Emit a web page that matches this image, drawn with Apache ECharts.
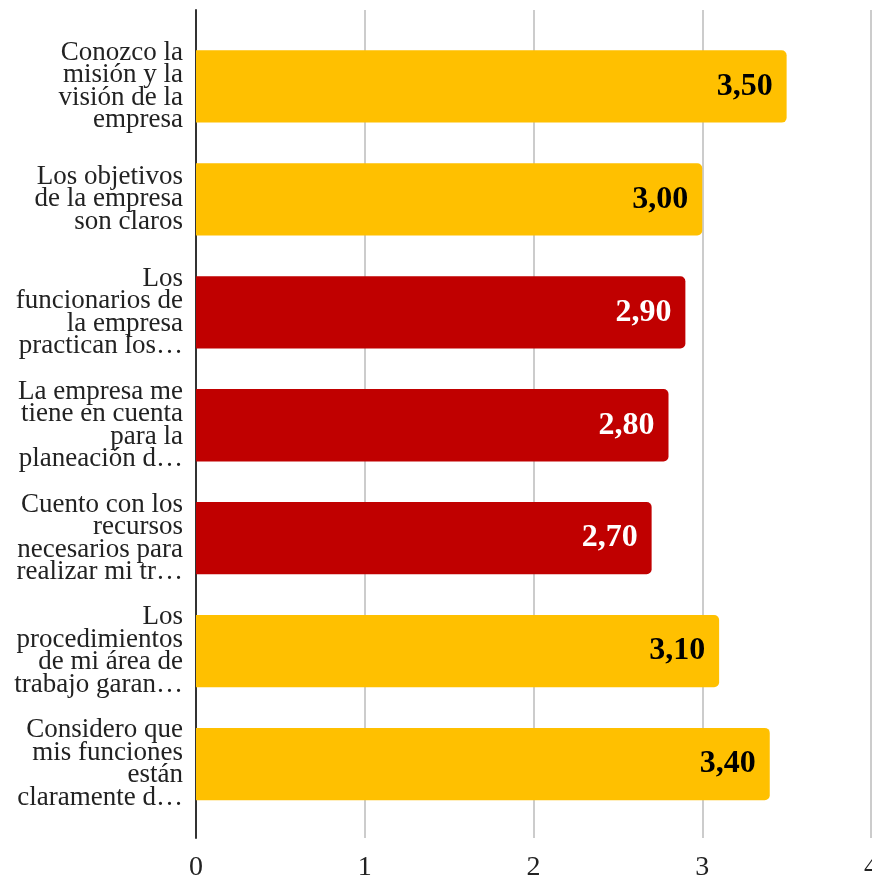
<!DOCTYPE html>
<html>
<head>
<meta charset="utf-8">
<script src="https://cdn.jsdelivr.net/npm/echarts@6/dist/echarts.min.js"></script>
<style>
html,body{margin:0;padding:0;background:#fff;}
#chart{width:872px;height:881px;}
</style>
</head>
<body>
<div id="chart"></div>
<script>
const categories = [
  "Conozco la\nmisión y la\nvisión de la\nempresa",
  "Los objetivos\nde la empresa\nson claros",
  "Los\nfuncionarios de\nla empresa\npractican los…",
  "La empresa me\ntiene en cuenta\npara la\nplaneación d…",
  "Cuento con los\nrecursos\nnecesarios para\nrealizar mi tr…",
  "Los\nprocedimientos\nde mi área de\ntrabajo garan…",
  "Considero que\nmis funciones\nestán\nclaramente d…"
];
const values = [3.50, 3.00, 2.90, 2.80, 2.70, 3.10, 3.40];
const xTicks = [0, 1, 2, 3, 4];

const YELLOW = '#FFC000';
const RED = '#C00000';
const SERIF = '"Liberation Serif", "DejaVu Serif", serif';

const chart = echarts.init(document.getElementById('chart'), null, {renderer: 'canvas'});
chart.setOption({
  animation: false,
  backgroundColor: '#fff',
  grid: [
    {left: 196, right: 1, top: 10, bottom: 43, outerBoundsMode: 'none', containLabel: false},
    {left: 196, right: 1, top: 30, bottom: 60.5, outerBoundsMode: 'none', containLabel: false}
  ],
  xAxis: [
    {
      gridIndex: 0, type: 'value', min: xTicks[0], max: xTicks[xTicks.length - 1], interval: 1,
      axisLine: {show: false}, axisTick: {show: false},
      splitLine: {show: true, lineStyle: {color: '#cccccc', width: 2}},
      axisLabel: {fontFamily: SERIF, fontSize: 28, color: '#222', margin: 16, hideOverlap: false}
    },
    {
      gridIndex: 1, type: 'value', min: xTicks[0], max: xTicks[xTicks.length - 1], interval: 1,
      axisLine: {show: false}, axisTick: {show: false}, splitLine: {show: false}, axisLabel: {show: false}
    }
  ],
  yAxis: [
    {
      gridIndex: 0, type: 'value', min: 0, max: 1,
      axisLine: {show: true, onZero: false, lineStyle: {color: '#333', width: 2}},
      axisTick: {show: false}, splitLine: {show: false}, axisLabel: {show: false}
    },
    {
      gridIndex: 1, type: 'category', inverse: true, data: categories,
      axisLine: {show: false}, axisTick: {show: false}, splitLine: {show: false},
      axisLabel: {fontFamily: SERIF, fontSize: 27, lineHeight: 22.5, color: '#222', align: 'right', margin: 13}
    }
  ],
  series: [{
    type: 'bar',
    xAxisIndex: 1, yAxisIndex: 1,
    barWidth: '64%',
    data: values.map(v => ({
      value: v,
      itemStyle: {color: v < 3 ? RED : YELLOW, borderRadius: [0, 5, 5, 0]},
      label: {color: v < 3 ? '#fff' : '#000'}
    })),
    label: {
      show: true, position: 'insideRight', distance: 14,
      fontFamily: SERIF, fontSize: 32, fontWeight: 'bold',
      formatter: p => p.value.toFixed(2).replace('.', ',')
    }
  }]
});
</script>
</body>
</html>
